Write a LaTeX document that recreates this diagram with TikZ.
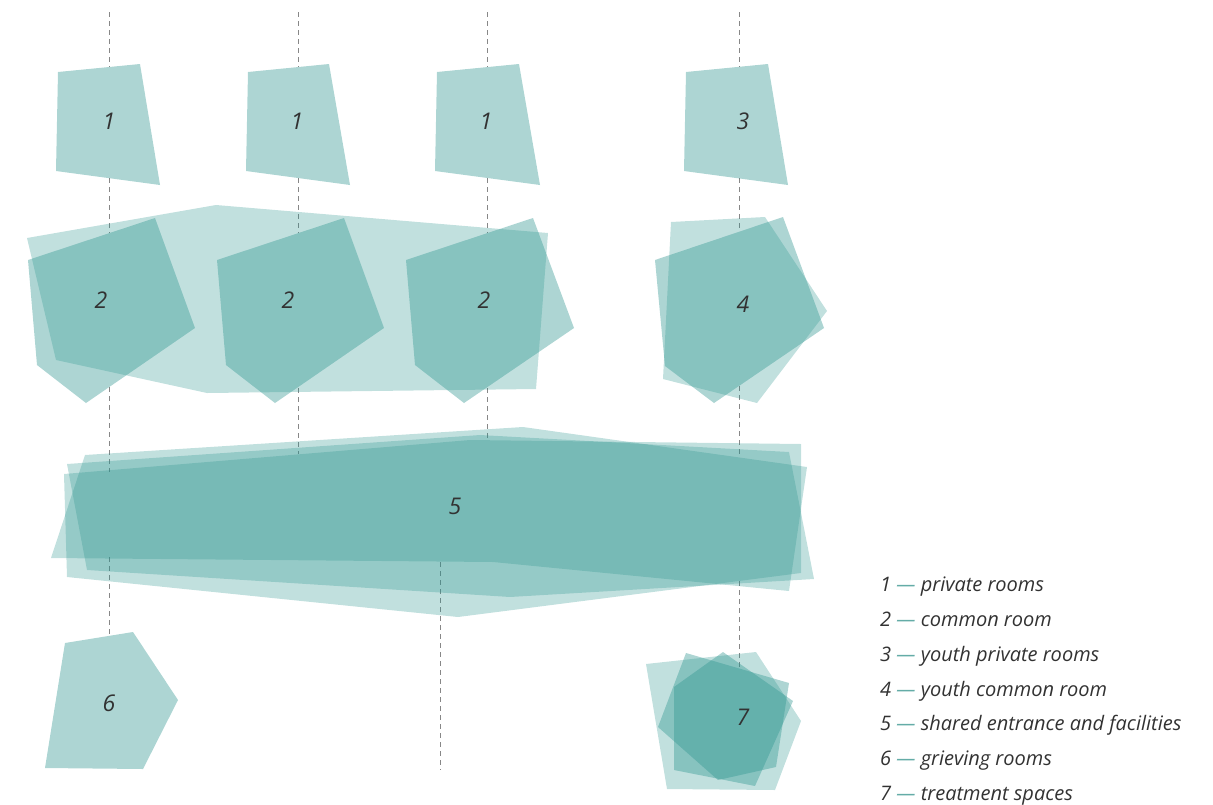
\documentclass[tikz,border=0pt]{standalone}
\usepackage{fontspec}
\setmainfont{Open Sans}
\definecolor{tealc}{RGB}{43,148,142}
\definecolor{dashteal}{RGB}{100,172,167}
\definecolor{txt}{RGB}{50,50,50}
\definecolor{dashc}{RGB}{135,135,135}
\tikzset{
 lite/.style={fill=tealc, fill opacity=0.29},
 mid/.style={fill=tealc, fill opacity=0.39},
 guide/.style={draw=dashc, line width=1pt, dash pattern=on 5pt off 4pt},
 lbl/.style={font=\itshape\fontsize{23}{23}\selectfont, text=txt, inner sep=0pt},
 leg/.style={font=\itshape\fontsize{20}{20}\selectfont, text=txt, anchor=base west, inner sep=0pt},
}
\begin{document}
\begin{tikzpicture}[x=1pt,y=-1pt]
\useasboundingbox (0,0) rectangle (1213,804);
% guide lines
\draw[guide] (109,12) -- (109,67) (109,178) -- (109,233) (109,387) -- (109,472) (109,557) -- (109,636);
\draw[guide] (298,12) -- (298,67) (298,178) -- (298,233) (298,388) -- (298,454);
\draw[guide] (487,12) -- (487,67) (487,178) -- (487,233) (487,388) -- (487,440);
\draw[guide] (739,12) -- (739,67) (739,178) -- (739,231) (739,386) -- (739,457) (739,581) -- (739,668);
\draw[guide] (440,562) -- (440,770);
% row 1
\fill[mid] (58,72) -- (140,64) -- (160,185) -- (56,171) -- cycle;
\fill[mid] (248,72) -- (329,64) -- (350,185) -- (246,171) -- cycle;
\fill[mid] (437,72) -- (519,64) -- (540,185) -- (435,171) -- cycle;
\fill[mid] (686,72) -- (768,64) -- (788,185) -- (684,171) -- cycle;
% row 2
\fill[lite] (27,238) -- (216,205) -- (548,233) -- (536,389) -- (207,393) -- (56,360) -- cycle;
\fill[mid] (28,260) -- (155,218) -- (195,328) -- (86,403) -- (37,365) -- cycle;
\fill[mid] (217,260) -- (344,218) -- (384,328) -- (275,403) -- (226,365) -- cycle;
\fill[mid] (406,260) -- (533,218) -- (574,328) -- (464,403) -- (415,365) -- cycle;
\fill[lite] (671,222) -- (765,217) -- (827,311) -- (757,403) -- (663,379) -- cycle;
\fill[mid] (655,260) -- (783,217) -- (824,328) -- (714,403) -- (665,366) -- cycle;
% shape 5
\fill[lite] (51,558) -- (85,455) -- (523,427) -- (807,467) -- (789,591) -- (493,562) -- cycle;
\fill[lite] (67,464) -- (480,435) -- (789,452) -- (814,579) -- (510,597) -- (87,570) -- cycle;
\fill[lite] (64,474) -- (470,440) -- (801,444) -- (801,573) -- (458,617) -- (67,577) -- cycle;
% shape 6
\fill[mid] (65,643) -- (133,632) -- (178,700) -- (143,769) -- (45,768) -- cycle;
% shape 7
\fill[lite] (646,664) -- (756,652) -- (801,721) -- (775,790) -- (667,789) -- cycle;
\fill[mid] (686,653) -- (789,683) -- (776,767) -- (718,780) -- (658,727) -- cycle;
\fill[mid] (723,652) -- (793,701) -- (755,786) -- (674,770) -- (674,687) -- cycle;
% labels
\node[lbl] (n1a) at (109,121) {1};
\node[lbl] (n1b) at (297,121) {1};
\node[lbl] (n1c) at (486,121) {1};
\node[lbl] (n3) at (743,121) {3};
\node[lbl] (n2a) at (101,300) {2};
\node[lbl] (n2b) at (288,300) {2};
\node[lbl] (n2c) at (484,300) {2};
\node[lbl] (n4) at (743,304) {4};
\node[lbl] (n5) at (455,506) {5};
\node[lbl] (n6) at (109,703) {6};
\node[lbl] (n7) at (743,717) {7};
% legend
\node[leg] (l1) at (880,591) {1 \textcolor{dashteal}{—} private rooms};
\node[leg] (l2) at (880,626) {2 \textcolor{dashteal}{—} common room};
\node[leg] (l3) at (880,661) {3 \textcolor{dashteal}{—} youth private rooms};
\node[leg] (l4) at (880,696) {4 \textcolor{dashteal}{—} youth common room};
\node[leg] (l5) at (880,730) {5 \textcolor{dashteal}{—} shared entrance and facilities};
\node[leg] (l6) at (880,765) {6 \textcolor{dashteal}{—} grieving rooms};
\node[leg] (l7) at (880,800) {7 \textcolor{dashteal}{—} treatment spaces};
\end{tikzpicture}
\end{document}
